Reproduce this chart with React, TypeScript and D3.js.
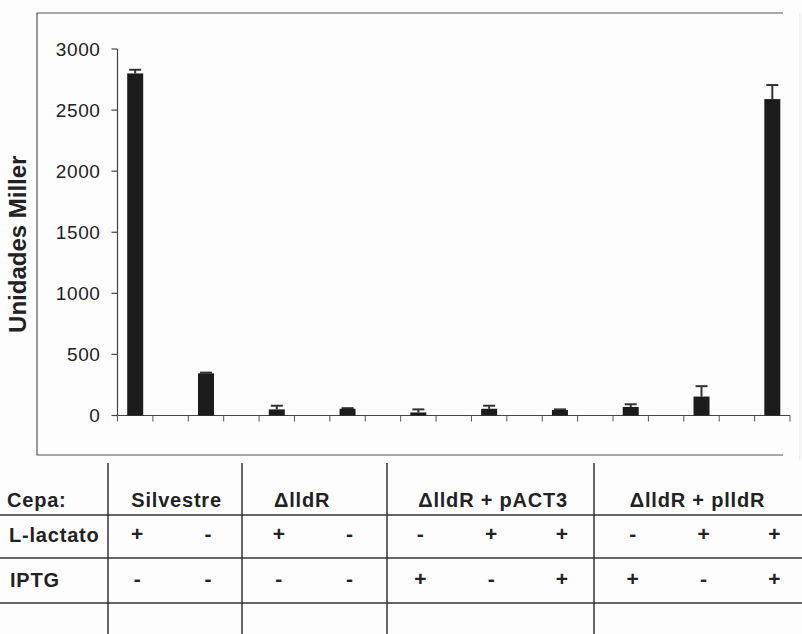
import React, { useRef, useEffect } from "react";
import * as d3 from "d3";

// values (Unidades Miller)
const cepas = ["Silvestre", "ΔlldR", "ΔlldR + pACT3", "ΔlldR + plldR"];
const cepaOfBar = [0, 0, 1, 1, 2, 2, 2, 3, 3, 3];
const lactato = ["+", "-", "+", "-", "-", "+", "+", "-", "+", "+"];
const iptg = ["-", "-", "-", "-", "+", "-", "+", "+", "-", "+"];
const miller = [2800, 345, 50, 55, 25, 55, 45, 70, 155, 2590];
const errors = [30, 6, 30, 5, 25, 25, 5, 22, 85, 115];
const yTicks = [0, 500, 1000, 1500, 2000, 2500, 3000];
const rowLabels = ["Cepa:", "L-lactato", "IPTG"];

const W = 802;
const H = 634;
const FONT = "'Liberation Sans', Arial, Helvetica, sans-serif";

const App = () => {
	const svgRef = useRef(null);

	useEffect(() => {
		const svg = d3.select(svgRef.current);
		svg.selectAll("*").remove();

		svg.append("rect").attr("width", W).attr("height", H).attr("fill", "#fdfdfd");

		// outer frame around the plot
		const frame = { left: 37, top: 13, right: 783, bottom: 455 };
		svg.append("path")
			.attr("d", `M${frame.right},${frame.top}H${frame.left}V${frame.bottom}H${frame.right}`)
			.attr("fill", "none")
			.attr("stroke", "#555")
			.attr("stroke-width", 1.2);
		svg.append("line")
			.attr("x1", 800).attr("x2", 800)
			.attr("y1", frame.top).attr("y2", frame.bottom + 5)
			.attr("stroke", "#e4e4e4");

		// 19 slots, bars sit in every other slot
		const nSlots = miller.length * 2 - 1;
		const x = d3.scaleBand().domain(d3.range(nSlots)).range([117.5, 790]).padding(0);
		const y = d3.scaleLinear().domain([0, 3000]).range([415.5, 49]);
		const barW = 16;
		const cx = (i) => x(i * 2) + x.bandwidth() / 2;

		const g = svg.append("g").attr("font-family", FONT).attr("fill", "#222");

		// y axis
		g.append("line")
			.attr("x1", x.range()[0]).attr("x2", x.range()[0])
			.attr("y1", y(3000)).attr("y2", y(0))
			.attr("stroke", "#444").attr("stroke-width", 1.2);
		const yt = g.selectAll(".yt").data(yTicks).enter().append("g")
			.attr("transform", (d) => `translate(${x.range()[0]},${y(d)})`);
		yt.append("line").attr("x1", -6).attr("x2", 0).attr("stroke", "#444").attr("stroke-width", 1.2);
		yt.append("text")
			.attr("x", -17)
			.attr("dy", "0.36em")
			.attr("text-anchor", "end")
			.attr("font-size", 19)
			.attr("letter-spacing", 0.6)
			.text((d) => d);

		g.append("text")
			.attr("transform", `translate(26,${(y(0) + y(3000)) / 2 + 12}) rotate(-90)`)
			.attr("text-anchor", "middle")
			.attr("font-size", 24)
			.attr("font-weight", "bold")
			.text("Unidades Miller");

		// x axis with a tick at every slot boundary
		g.append("line")
			.attr("x1", x.range()[0]).attr("x2", x.range()[1])
			.attr("y1", y(0)).attr("y2", y(0))
			.attr("stroke", "#444").attr("stroke-width", 1.2);
		g.selectAll(".xt").data(d3.range(nSlots + 1)).enter().append("line")
			.attr("x1", (i) => x.range()[0] + i * x.bandwidth())
			.attr("x2", (i) => x.range()[0] + i * x.bandwidth())
			.attr("y1", y(0)).attr("y2", y(0) + 6)
			.attr("stroke", "#555").attr("stroke-width", 1);

		// error bars (upper half only)
		const eb = g.selectAll(".eb").data(miller).enter().append("g");
		eb.append("line")
			.attr("x1", (d, i) => cx(i)).attr("x2", (d, i) => cx(i))
			.attr("y1", (d) => y(d)).attr("y2", (d, i) => y(d + errors[i]))
			.attr("stroke", "#333").attr("stroke-width", 2);
		eb.append("line")
			.attr("x1", (d, i) => cx(i) - 6).attr("x2", (d, i) => cx(i) + 6)
			.attr("y1", (d, i) => y(d + errors[i])).attr("y2", (d, i) => y(d + errors[i]))
			.attr("stroke", "#333").attr("stroke-width", 2);

		// bars
		g.selectAll(".bar").data(miller).enter().append("rect")
			.attr("x", (d, i) => cx(i) - barW / 2)
			.attr("y", (d) => y(d))
			.attr("width", barW)
			.attr("height", (d) => y(0) - y(d))
			.attr("fill", "#1c1c1c");

		// condition table below the plot
		const hLines = [515, 558, 603];
		const vLines = [108, 242, 387, 594];
		g.selectAll(".hl").data(hLines).enter().append("line")
			.attr("x1", 0).attr("x2", W)
			.attr("y1", (d) => d).attr("y2", (d) => d)
			.attr("stroke", "#333").attr("stroke-width", 1.5);
		g.selectAll(".vl").data(vLines).enter().append("line")
			.attr("x1", (d) => d).attr("x2", (d) => d)
			.attr("y1", 463).attr("y2", H)
			.attr("stroke", "#333").attr("stroke-width", 1.5);

		const rowY = [507, 542, 587];
		g.selectAll(".rl").data(rowLabels).enter().append("text")
			.attr("x", (d, i) => [7, 9, 10][i])
			.attr("y", (d, i) => rowY[i])
			.attr("font-size", 20)
			.attr("font-weight", "bold")
			.attr("letter-spacing", 0.8)
			.text((d) => d);

		// strain labels centred over their bars
		const cepaOffset = [6, -10, 4, -4];
		g.selectAll(".cl").data(cepas).enter().append("text")
			.attr("x", (d, k) => {
				const idx = d3.range(miller.length).filter((i) => cepaOfBar[i] === k);
				return (cx(idx[0]) + cx(idx[idx.length - 1])) / 2 + cepaOffset[k];
			})
			.attr("y", rowY[0])
			.attr("text-anchor", "middle")
			.attr("font-size", 20)
			.attr("font-weight", "bold")
			.attr("letter-spacing", 0.8)
			.text((d) => d);

		[lactato, iptg].forEach((row, r) => {
			g.selectAll(`.sign${r}`).data(row).enter().append("text")
				.attr("x", (d, i) => cx(i) + 2)
				.attr("y", rowY[r + 1] - 1)
				.attr("text-anchor", "middle")
				.attr("font-size", 21)
				.attr("font-weight", "bold")
				.text((d) => d);
		});
	}, []);

	return (
		<svg
			ref={svgRef}
			width={W}
			height={H}
			style={{ position: "absolute", left: 0, top: 0, display: "block" }}
		/>
	);
};

export default App;
